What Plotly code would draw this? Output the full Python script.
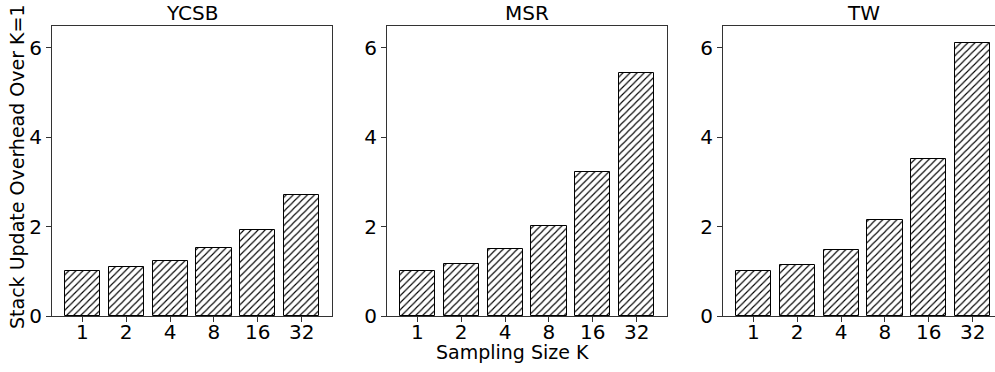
import plotly.graph_objects as go

categories = ["1", "2", "4", "8", "16", "32"]
ycsb = [1.0, 1.10, 1.22, 1.51, 1.92, 2.70]
msr = [1.0, 1.155, 1.49, 2.01, 3.23, 5.44]
tw = [1.0, 1.14, 1.47, 2.14, 3.52, 6.10]
titles = ["YCSB", "MSR", "TW"]
y_ticks = [0, 2, 4, 6]

W, H = 995, 372
font = "DejaVu Sans"
fig = go.Figure()

series = [ycsb, msr, tw]
doms = [(52, 332), (387, 667), (723, 995)]
ydom = [(H - 316) / H, (H - 26) / H]
px_per_unit = 280 / 6.38

for i, (vals, (x0, x1)) in enumerate(zip(series, doms)):
    n = "" if i == 0 else str(i + 1)
    fig.add_trace(go.Bar(
        x=list(range(len(categories))), y=vals, width=0.8,
        xaxis="x" + n, yaxis="y" + n,
        marker=dict(color="white",
                    line=dict(color="black", width=1),
                    pattern=dict(shape="/", fgcolor="black", bgcolor="white",
                                 size=5, solidity=0.22)),
        showlegend=False, hoverinfo="skip"))
    xr_end = -0.69 + (x1 - x0) / px_per_unit
    fig.layout["xaxis" + n] = dict(
        domain=[x0 / W, x1 / W], range=[-0.69, xr_end], anchor="y" + n,
        tickvals=list(range(len(categories))), ticktext=categories,
        showline=True, linecolor="#333", linewidth=1, mirror=True,
        ticks="outside", ticklen=5, tickcolor="#333", automargin=False,
        ticklabelstandoff=-7,
        tickfont=dict(family=font, size=20, color="black"),
        showgrid=False, zeroline=False)
    fig.layout["yaxis" + n] = dict(
        domain=ydom, range=[0, 6.485], anchor="x" + n,
        tickvals=y_ticks, ticktext=[str(t) for t in y_ticks],
        showline=True, linecolor="#333", linewidth=1, mirror=(i < 2),
        ticks="outside", ticklen=5, tickcolor="#333", automargin=False,
        tickfont=dict(family=font, size=20, color="black"),
        showgrid=False, zeroline=False)
    fig.add_annotation(text=titles[i], x=(x0 + 140) / W, y=(H - 13) / H,
                       xref="paper", yref="paper", xanchor="center", yanchor="middle",
                       showarrow=False,
                       font=dict(family=font, size=20, color="black"))

fig.add_annotation(text="Stack Update Overhead Over K=1", x=17 / W, y=(H - 167) / H,
                   xref="paper", yref="paper", xanchor="center", yanchor="middle",
                   textangle=-90, showarrow=False,
                   font=dict(family=font, size=19, color="black"))
fig.add_annotation(text="Sampling Size K", x=512 / W, y=(H - 352) / H,
                   xref="paper", yref="paper", xanchor="center", yanchor="middle",
                   showarrow=False,
                   font=dict(family=font, size=19, color="black"))

fig.update_layout(template="none", width=W, height=H,
                  margin=dict(l=0, r=0, t=0, b=0, autoexpand=False),
                  plot_bgcolor="white", paper_bgcolor="white", bargap=0)
fig.write_html("out.html", config={"displayModeBar": False},
               post_script="document.body.style.margin='0';document.body.style.overflow='hidden';")
